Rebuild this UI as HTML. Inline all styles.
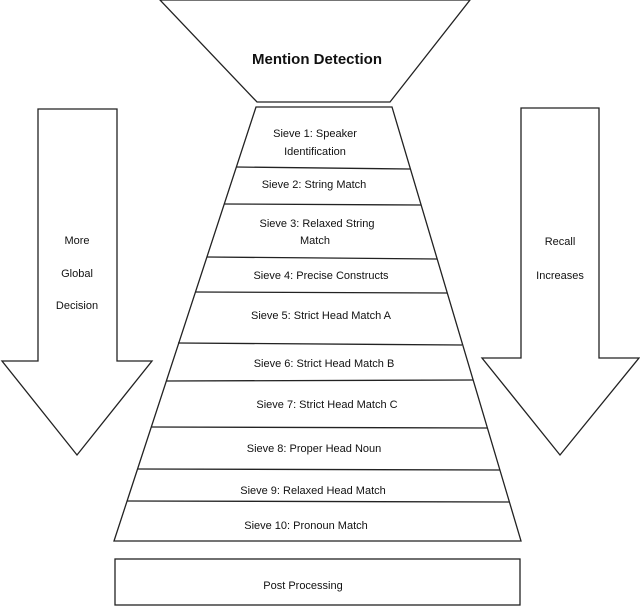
<!DOCTYPE html>
<html><head><meta charset="utf-8"><style>
body{margin:0;background:#fff}
svg text{font-family:"Liberation Sans",sans-serif;font-size:11px;fill:#111;text-anchor:middle}
</style></head><body>
<svg width="640" height="607" viewBox="0 0 640 607" xmlns="http://www.w3.org/2000/svg">
<g fill="#fff" stroke="#222" stroke-width="1.3">
<polygon points="160,0 470,0 390,102 257,102"/>
<polygon points="256,107 392,107 521,541 114,541"/>
<polygon points="38,109 117,109 117,361 152,361 77,455 2,361 38,361"/>
<polygon points="521,108 599,108 599,358 639,358 560,455 482,358 521,358"/>
<rect x="115" y="559" width="405" height="46"/>
<line x1="236" y1="167" x2="410" y2="169"/>
<line x1="224" y1="204" x2="421" y2="205"/>
<line x1="207" y1="257" x2="437" y2="259"/>
<line x1="195" y1="292" x2="447" y2="293"/>
<line x1="178" y1="343" x2="462" y2="345"/>
<line x1="166" y1="381" x2="473" y2="380"/>
<line x1="151" y1="427" x2="487" y2="428"/>
<line x1="138" y1="469" x2="500" y2="470"/>
<line x1="127" y1="501" x2="509" y2="502"/>
</g>
<text x="317" y="64" style="font-size:15px;font-weight:bold">Mention Detection</text>
<text x="315" y="137">Sieve 1: Speaker</text>
<text x="315" y="155">Identification</text>
<text x="314" y="188">Sieve 2: String Match</text>
<text x="317" y="227">Sieve 3: Relaxed String</text>
<text x="315" y="244">Match</text>
<text x="321" y="279">Sieve 4: Precise Constructs</text>
<text x="321" y="319">Sieve 5: Strict Head Match A</text>
<text x="324" y="367">Sieve 6: Strict Head Match B</text>
<text x="327" y="408">Sieve 7: Strict Head Match C</text>
<text x="314" y="452">Sieve 8: Proper Head Noun</text>
<text x="313" y="494">Sieve 9: Relaxed Head Match</text>
<text x="306" y="529">Sieve 10: Pronoun Match</text>
<text x="303" y="589">Post Processing</text>
<text x="77" y="244">More</text>
<text x="77" y="277">Global</text>
<text x="77" y="309">Decision</text>
<text x="560" y="245">Recall</text>
<text x="560" y="279">Increases</text>
</svg>
</body></html>
